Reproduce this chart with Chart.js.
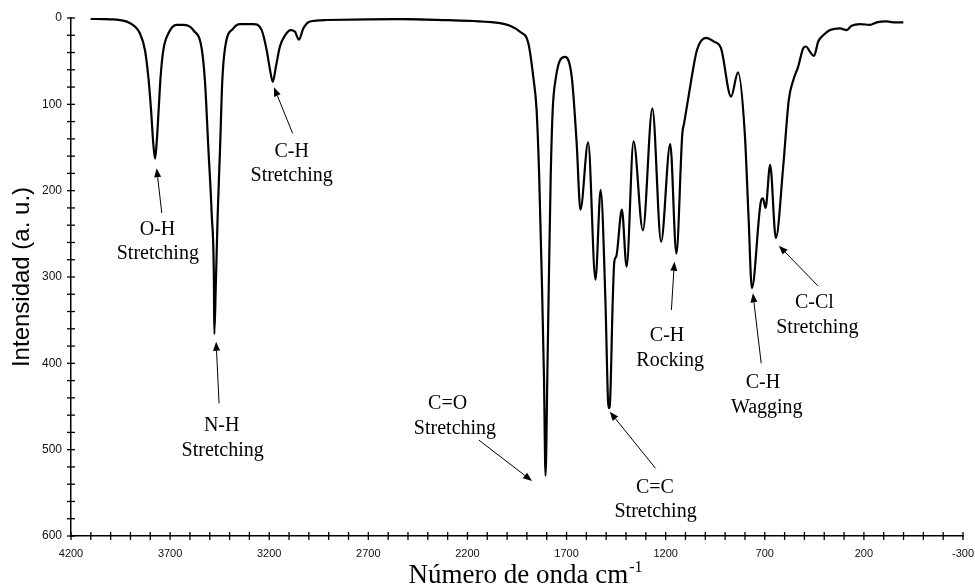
<!DOCTYPE html>
<html><head><meta charset="utf-8">
<script src="https://cdn.jsdelivr.net/npm/chart.js@4.4.0/dist/chart.umd.min.js"></script>
<style>html,body{margin:0;padding:0;background:#fff;}canvas{display:block;}</style>
</head><body>
<canvas id="c" width="975" height="587"></canvas>
<script>
// Spectrum (wavenumber cm-1, intensity a.u.)
const wavenumbers = [4101,4003,3902,3852,3827,3810,3796,3785,3776,3768,3758,3748,3734,3709,3667,3630,3600,3583,3541,3524,3507,3490,3479,3477,3469,3460,3448,3437,3423,3381,3347,3280,3238,3213,3196,3182,3166,3146,3120,3092,3070,3050,3028,2994,2910,2700,2540,2300,2170,2036,1985,1935,1893,1868,1851,1838,1825,1814,1806,1797,1789,1780,1770,1753,1733,1708,1674,1649,1630,1591,1554,1528,1504,1491,1486,1480,1467,1459,1449,1421,1397,1362,1315,1267,1223,1177,1146,1116,1107,1079,1042,996,959,921,870,835,801,782,765,718,709,696,673,644,607,579,556,531,506,492,472,452,430,405,371,321,287,262,220,169,135,85,52,1];
const intensities = [1,1.5,6,18,37,68,107,145,163,145,107,68,37,18,8,8,10,14,35,74,151,228,305,366,305,228,151,74,35,12,7,7,14,37,60,74,56,33,20,14,16,25,12,4,2.3,1.5,1.2,2.5,3.5,6,9,16,29,68,107,184,300,415,530,415,300,184,107,68,49,45,68,145,222,144,303,199,327,442,452,442,327,282,276,222,288,143,246,105,259,146,273,134,122,83,37,23,27,35,91,63,133,230,313,211,209,220,170,255,172,95,72,56,35,33,39,44,27,20,14,12,14,9,7,8,5,4,5,5];

const xTickLabels = [4200,3700,3200,2700,2200,1700,1200,700,200,-300];
const yTickLabels = [0,100,200,300,400,500,600];

// Annotations (data units)
const annLine1 = ['O-H','C-H','N-H','C=O','C=C','C-H','C-H','C-Cl'];
const annLine2 = ['Stretching','Stretching','Stretching','Stretching','Stretching','Rocking','Wagging','Stretching'];
const annX1 = [3764,3087,3440,2300,1254,1193,709,450];
const annX2 = [3762,3087,3435,2263,1251,1177,690,435];
const annY1 = [245.6,154.9,472.6,447,543.6,368.3,422.4,330];
const annY2 = [273,182.7,501.2,475.3,571.9,397,451,358.3];
const arrowFrom = [[3742,226],[3082,133.6],[3453,446.3],[2143,488.8],[1251,521.6],[1171,338.2],[718,400],[431,310.4]];
const arrowTo   = [[3768,174],[3176,80.3],[3468,375],[1874,536.3],[1482,456],[1156,282.3],[760,318.9],[629,263.7]];

const points = wavenumbers.map((w,i)=>({x:w, y:intensities[i]}));

const crossTicks = {
  id:'crossTicks',
  afterDraw(chart){
    const ctx = chart.ctx, xs = chart.scales.x, ys = chart.scales.y, ca = chart.chartArea;
    ctx.save();
    ctx.strokeStyle = '#000'; ctx.lineWidth = 1.3;
    xs.ticks.forEach(t=>{
      const p = xs.getPixelForValue(t.value);
      ctx.beginPath(); ctx.moveTo(p, ca.bottom-4); ctx.lineTo(p, ca.bottom+4); ctx.stroke();
    });
    ys.ticks.forEach(t=>{
      const p = ys.getPixelForValue(t.value);
      ctx.beginPath(); ctx.moveTo(ca.left-4, p); ctx.lineTo(ca.left+4, p); ctx.stroke();
    });
    // axis titles
    ctx.fillStyle = '#000';
    ctx.save();
    ctx.translate(22, (ca.top+ca.bottom)/2);
    ctx.rotate(-Math.PI/2);
    ctx.font = '24px "Liberation Sans", Arial, sans-serif';
    ctx.textAlign = 'center'; ctx.textBaseline = 'middle';
    ctx.fillText('Intensidad (a. u.)', 0, 0);
    ctx.restore();
    const main = 'Número de onda cm', sup = '-1';
    ctx.font = '27px "Liberation Serif", "Times New Roman", serif';
    const wMain = ctx.measureText(main).width;
    ctx.font = '16px "Liberation Serif", "Times New Roman", serif';
    const wSup = ctx.measureText(sup).width;
    const cx = (ca.left+ca.right)/2 + 8;
    const x0 = cx - (wMain+wSup)/2;
    ctx.textAlign = 'left'; ctx.textBaseline = 'alphabetic';
    ctx.font = '27px "Liberation Serif", "Times New Roman", serif';
    ctx.fillText(main, x0, 583);
    ctx.font = '16px "Liberation Serif", "Times New Roman", serif';
    ctx.fillText(sup, x0 + wMain + 1, 572);
    ctx.restore();
  },
  afterDatasetsDraw(chart){
    const ctx = chart.ctx, xs = chart.scales.x, ys = chart.scales.y;
    ctx.save();
    ctx.fillStyle = '#000'; ctx.strokeStyle = '#000';
    ctx.font = '20px "Liberation Serif", "Times New Roman", serif';
    ctx.textAlign = 'center'; ctx.textBaseline = 'middle';
    for (let i=0;i<annLine1.length;i++){
      ctx.fillText(annLine1[i], xs.getPixelForValue(annX1[i]), ys.getPixelForValue(annY1[i]));
      ctx.fillText(annLine2[i], xs.getPixelForValue(annX2[i]), ys.getPixelForValue(annY2[i]));
      const fx = xs.getPixelForValue(arrowFrom[i][0]), fy = ys.getPixelForValue(arrowFrom[i][1]);
      const tx = xs.getPixelForValue(arrowTo[i][0]), ty = ys.getPixelForValue(arrowTo[i][1]);
      const ang = Math.atan2(ty-fy, tx-fx);
      const hl = 9, hw = 3.5;
      const bx = tx - hl*Math.cos(ang), by = ty - hl*Math.sin(ang);
      ctx.lineWidth = 1;
      ctx.beginPath(); ctx.moveTo(fx, fy); ctx.lineTo(bx, by); ctx.stroke();
      ctx.beginPath();
      ctx.moveTo(tx, ty);
      ctx.lineTo(bx + hw*Math.sin(ang), by - hw*Math.cos(ang));
      ctx.lineTo(bx - hw*Math.sin(ang), by + hw*Math.cos(ang));
      ctx.closePath(); ctx.fill();
    }
    ctx.restore();
  }
};

new Chart(document.getElementById('c'), {
  type: 'line',
  data: { datasets: [{
    data: points,
    borderColor: '#000',
    borderWidth: 2.2,
    pointRadius: 0,
    fill: false,
    cubicInterpolationMode: 'monotone'
  }]},
  options: {
    responsive: false,
    animation: false,
    devicePixelRatio: 1,
    layout: { padding: { top: 18, right: 12, left: 0, bottom: 0 } },
    plugins: { legend: { display: false }, tooltip: { enabled: false } },
    scales: {
      x: {
        type: 'linear', reverse: true, min: -300, max: 4200,
        afterFit: s => { s.height = 51; s.paddingLeft = 0; s.paddingRight = 0; },
        grid: { display: false, drawTicks: false },
        border: { display: true, color: '#000', width: 1.5 },
        ticks: {
          stepSize: 100, autoSkip: false, maxRotation: 0, padding: 11,
          color: '#111', font: { family: '"Liberation Sans", Arial, sans-serif', size: 11 },
          callback: v => xTickLabels.includes(v) ? String(v) : ''
        }
      },
      y: {
        type: 'linear', reverse: true, min: 0, max: 600,
        afterFit: s => { s.width = 71; s.paddingTop = 0; s.paddingBottom = 0; },
        grid: { display: false, drawTicks: false },
        border: { display: true, color: '#000', width: 1.5 },
        ticks: {
          stepSize: 20, autoSkip: false, padding: 9,
          color: '#111', font: { family: '"Liberation Sans", Arial, sans-serif', size: 12 },
          callback: v => yTickLabels.includes(v) ? String(v) : ''
        }
      }
    }
  },
  plugins: [crossTicks]
});
</script>
</body></html>
